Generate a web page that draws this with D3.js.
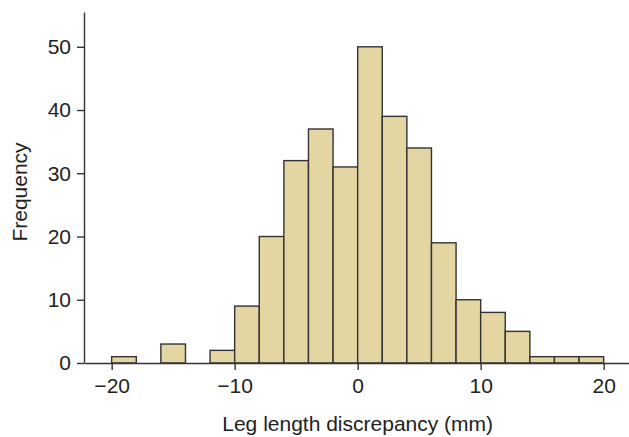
<!DOCTYPE html>
<html>
<head>
<meta charset="utf-8">
<script src="https://cdn.jsdelivr.net/npm/d3@7"></script>
<style>
  body { margin: 0; background: #fff; }
  text { font-family: "Liberation Sans", Arial, sans-serif; fill: #222; }
</style>
</head>
<body>
<div id="graph"></div>
<script>
// Histogram data: bin lower edges (mm) and counts, bin width 2
var binStarts = [-20, -18, -16, -14, -12, -10, -8, -6, -4, -2, 0, 2, 4, 6, 8, 10, 12, 14, 16, 18];
var counts    = [1, 0, 3, 0, 2, 9, 20, 32, 37, 31, 50, 39, 34, 19, 10, 8, 5, 1, 1, 1];
var binWidth = 2;
var xTicks = [-20, -10, 0, 10, 20];
var yTicks = [0, 10, 20, 30, 40, 50];

var data = binStarts.map(function(s, i) { return {x0: s, x1: s + binWidth, n: counts[i]}; })
    .filter(function(d) { return d.n > 0; });

// Graph dimensions
var margin = {top: 12, right: 0, bottom: 74, left: 84},
    width = 629 - margin.left - margin.right,
    height = 437 - margin.top - margin.bottom;

// Scales
var x = d3.scaleLinear().domain([-22.25, 22.06]).range([0, width]),
    y = d3.scaleLinear().domain([0, 55.5]).range([height, 0]);

var svg = d3.select('#graph')
    .append('svg')
    .attr('width', 629)
    .attr('height', 437);

var chart = svg.append('g')
    .attr('transform', 'translate(' + margin.left + ',' + margin.top + ')');

// Bars
chart.append('g')
    .selectAll('rect')
    .data(data)
    .enter()
    .append('rect')
        .attr('x', function(d) { return x(d.x0); })
        .attr('y', function(d) { return y(d.n); })
        .attr('width', function(d) { return x(d.x1) - x(d.x0); })
        .attr('height', function(d) { return y(0) - y(d.n); })
        .attr('fill', '#e3d6a2')
        .attr('stroke', '#333')
        .attr('stroke-width', 1.4);

// Axes
var xAxis = chart.append('g')
    .attr('transform', 'translate(0,' + height + ')')
    .call(d3.axisBottom(x).tickValues(xTicks).tickSize(7).tickSizeOuter(0).tickPadding(8));
var yAxis = chart.append('g')
    .call(d3.axisLeft(y).tickValues(yTicks).tickSize(7).tickSizeOuter(0).tickPadding(6));

[xAxis, yAxis].forEach(function(a) {
    a.select('.domain').attr('stroke', '#333').attr('stroke-width', 1.4);
    a.selectAll('.tick line').attr('stroke', '#333').attr('stroke-width', 1.4);
    a.selectAll('.tick text')
        .style('font-family', '"Liberation Sans", Arial, sans-serif')
        .style('font-size', '21px')
        .attr('fill', '#222');
});

// Axis titles
svg.append('text')
    .attr('x', margin.left + x(0))
    .attr('y', 431)
    .attr('text-anchor', 'middle')
    .style('font-size', '21px')
    .text('Leg length discrepancy (mm)');

svg.append('text')
    .attr('transform', 'translate(27,192) rotate(-90)')
    .attr('text-anchor', 'middle')
    .style('font-size', '21px')
    .text('Frequency');
</script>
</body>
</html>
